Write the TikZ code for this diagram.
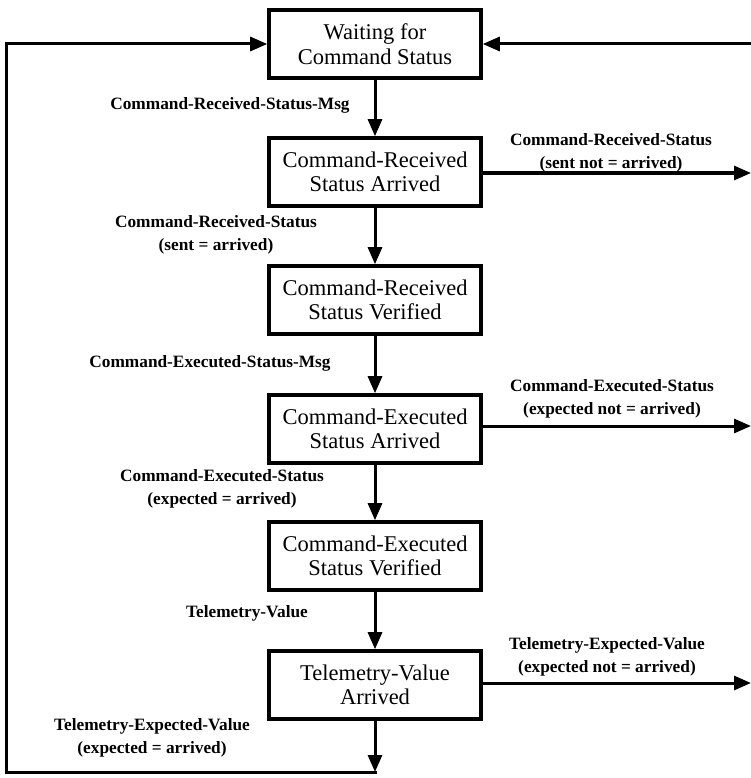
\documentclass[tikz,border=0pt]{standalone}
\usepackage{fontspec}
\setmainfont{Liberation Serif}
\usetikzlibrary{arrows.meta}
\begin{document}
\begin{tikzpicture}[x=1pt,y=-1pt,
  statebox/.style={draw, line width=3.6pt, minimum width=212pt, minimum height=68pt,
    inner sep=0pt, align=center, font=\fontsize{22.5}{24.5}\selectfont},
  lbl/.style={align=center, inner sep=0pt, font=\bfseries\fontsize{17.3}{22.5}\selectfont},
  conn/.style={line width=3pt, -{Triangle[length=17pt,width=14pt]}}]
\useasboundingbox (0,0) rectangle (751,778);

% states
\node[statebox] (b1) at (375,44)  {Waiting for\\Command Status};
\node[statebox] (b2) at (375,172) {Command-Received\\Status Arrived};
\node[statebox] (b3) at (375,300) {Command-Received\\Status Verified};
\node[statebox] (b4) at (375,429) {Command-Executed\\Status Arrived};
\node[statebox] (b5) at (375,556) {Command-Executed\\Status Verified};
\node[statebox] (b6) at (375,685) {Telemetry-Value\\Arrived};

% free ends at the right edge and the return loop corners
\coordinate (rtop) at (751,44);
\coordinate (r2) at (751,173);
\coordinate (r4) at (751,426);
\coordinate (r6) at (751,683);
\coordinate (bot) at (375,772);
\coordinate (botleft) at (6,772);

% main sequence
\draw[conn] (b1) -- (b2);
\draw[conn] (b2) -- (b3);
\draw[conn] (b3) -- (b4);
\draw[conn] (b4) -- (b5);
\draw[conn] (b5) -- (b6);
\draw[conn] (b6) -- (bot);

% return loop
\draw[conn, line cap=rect] (bot) -- (botleft) |- (b1.west);
\draw[conn] (rtop) -- (b1.east);

% failure exits
\draw[conn] (b2.east |- r2) -- (r2);
\draw[conn] (b4.east |- r4) -- (r4);
\draw[conn] (b6.east |- r6) -- (r6);

% transition labels
\node[lbl] (l1) at (230,105) {Command-Received-Status-Msg};
\node[lbl] (l2) at (216,235) {Command-Received-Status\\(sent = arrived)};
\node[lbl] (l3) at (210,363) {Command-Executed-Status-Msg};
\node[lbl] (l4) at (222,489) {Command-Executed-Status\\(expected = arrived)};
\node[lbl] (l5) at (247,613) {Telemetry-Value};
\node[lbl] (l6) at (152,738) {Telemetry-Expected-Value\\(expected = arrived)};

\node[lbl] (r2l) at (611,153) {Command-Received-Status\\(sent not = arrived)};
\node[lbl] (r4l) at (612,399) {Command-Executed-Status\\(expected not = arrived)};
\node[lbl] (r6l) at (607,657) {Telemetry-Expected-Value\\(expected not = arrived)};
\end{tikzpicture}
\end{document}
